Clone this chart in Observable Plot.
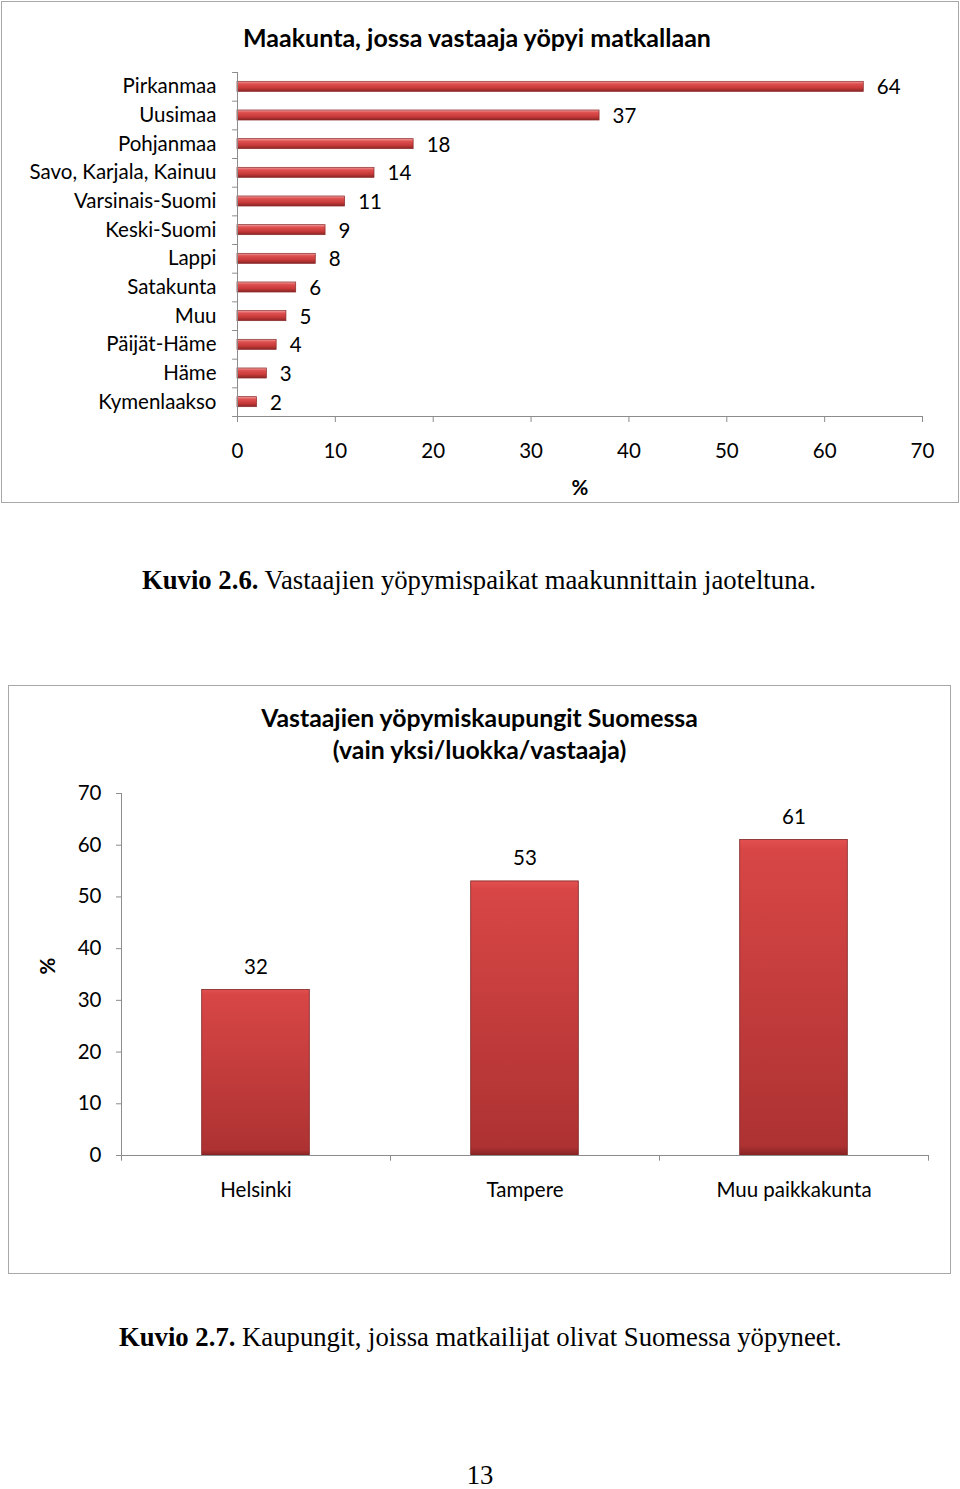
<!DOCTYPE html>
<html>
<head>
<meta charset="utf-8">
<script src="https://cdn.jsdelivr.net/npm/d3@7"></script>
<script src="https://cdn.jsdelivr.net/npm/@observablehq/plot@0.6"></script>
<style>
  html, body { margin: 0; padding: 0; background: #fff; }
  #page { position: relative; width: 960px; height: 1489px; background: #fff; overflow: hidden; }
  .box { position: absolute; border: 1px solid #a8a8a8; background: #fff; }
  .box svg { position: absolute; left: 0; top: 0; }
  .ctitle { position: absolute; left: 0; font-family: Lato, "Open Sans", sans-serif; font-weight: bold; color: #000; text-align: center; z-index: 2; white-space: nowrap; }
  .caption { position: absolute; font-family: "Liberation Serif", "DejaVu Serif", serif; font-size: 26.7px; line-height: 30px; color: #000; white-space: nowrap; }
</style>
</head>
<body>
<div id="page">
  <div id="box1" class="box" style="left:1px;top:1px;width:956px;height:500px;">
    <div class="ctitle" id="title1" style="top:20px;width:950px;font-size:25px;line-height:30px;"></div>
  </div>
  <div class="caption" style="left:142px;top:565px;"><b>Kuvio 2.6.</b> Vastaajien yöpymispaikat maakunnittain jaoteltuna.</div>
  <div id="box2" class="box" style="left:8px;top:685px;width:941px;height:587px;">
    <div class="ctitle" id="title2" style="top:16px;width:941px;font-size:24.8px;line-height:32px;"></div>
  </div>
  <div class="caption" style="left:119px;top:1322px;"><b>Kuvio 2.7.</b> Kaupungit, joissa matkailijat olivat Suomessa yöpyneet.</div>
  <div class="caption" style="left:0;width:960px;text-align:center;top:1462px;line-height:26px;">13</div>
</div>
<script>
// ---------- data ----------
const title1 = "Maakunta, jossa vastaaja yöpyi matkallaan";
const regions = ["Pirkanmaa", "Uusimaa", "Pohjanmaa", "Savo, Karjala, Kainuu", "Varsinais-Suomi", "Keski-Suomi", "Lappi", "Satakunta", "Muu", "Päijät-Häme", "Häme", "Kymenlaakso"];
const regionValues = [64, 37, 18, 14, 11, 9, 8, 6, 5, 4, 3, 2];
const xTicks1 = [0, 10, 20, 30, 40, 50, 60, 70];
const xLabel1 = "%";

const title2Lines = ["Vastaajien yöpymiskaupungit Suomessa", "(vain yksi/luokka/vastaaja)"];
const cities = ["Helsinki", "Tampere", "Muu paikkakunta"];
const cityValues = [32, 53, 61];
const yTicks2 = [0, 10, 20, 30, 40, 50, 60, 70];
const yLabel2 = "%";

const regionData = regions.map((r, i) => ({region: r, value: regionValues[i]}));
const cityData = cities.map((c, i) => ({city: c, value: cityValues[i]}));

document.getElementById("title1").textContent = title1;
document.getElementById("title2").innerHTML = title2Lines.map(s => `<div>${s}</div>`).join("");

const axisGray = "#8c8c8c";
const font = "Lato, 'Open Sans', sans-serif";

function addDefs(svg) {
  d3.select(svg).insert("defs", ":first-child").html(`
    <linearGradient id="hgrad" x1="0" y1="0" x2="0" y2="1">
      <stop offset="0" stop-color="#f0a0a0"/>
      <stop offset="0.25" stop-color="#df5050"/>
      <stop offset="0.65" stop-color="#c83a3a"/>
      <stop offset="1" stop-color="#8a2424"/>
    </linearGradient>
    <linearGradient id="vgrad" x1="0" y1="0" x2="0" y2="1">
      <stop offset="0" stop-color="#e25050"/>
      <stop offset="0.03" stop-color="#d84646"/>
      <stop offset="0.97" stop-color="#ae3232"/>
      <stop offset="1" stop-color="#8a2424"/>
    </linearGradient>`);
}

// ---------- chart 1 ----------
const W1 = 956, H1 = 500, mT1 = 70, mB1 = 86, mL1 = 235, mR1 = 36;
const step1 = (H1 - mT1 - mB1) / regions.length;
const chart1 = Plot.plot({
  width: W1, height: H1,
  marginTop: mT1, marginBottom: mB1, marginLeft: mL1, marginRight: mR1,
  style: {fontFamily: font, fontSize: "20.5px", color: "#000", background: "transparent"},
  x: {domain: [0, 70], ticks: xTicks1},
  y: {domain: regions, paddingInner: 0.65, paddingOuter: 0.325, round: false},
  marks: [
    Plot.barX(regionData, {y: "region", x: "value", fill: "url(#hgrad)", stroke: "#8a2a2a", strokeWidth: 0.7}),
    Plot.text(regionData, {y: "region", x: "value", text: d => String(d.value), dx: 13, dy: 1, textAnchor: "start", fill: "#000"}),
    Plot.ruleX([0], {stroke: axisGray}),
    Plot.ruleY([regions[regions.length - 1]], {x1: 0, x2: 70, dy: step1 / 2, stroke: axisGray}),
    Plot.ruleY(regions, {y: d => d, x1: -0.5, x2: 0, dy: step1 / 2, stroke: axisGray}),
    Plot.ruleY([regions[0]], {x1: -0.5, x2: 0, dy: -step1 / 2, stroke: axisGray}),
    Plot.axisY({tickSize: 0, tickPadding: 21, label: null, fill: "#000"}),
    Plot.axisX({ticks: xTicks1, tickSize: 6, tickPadding: 21, stroke: axisGray, fill: "#000", label: null}),
    Plot.text([xLabel1], {frameAnchor: "bottom", lineAnchor: "middle", dy: 72, fontWeight: "bold", fill: "#000"})
  ]
});
addDefs(chart1);
document.getElementById("box1").appendChild(chart1);

// ---------- chart 2 ----------
const W2 = 941, H2 = 587, mT2 = 107, mB2 = 118, mL2 = 112, mR2 = 22;
const step2 = (W2 - mL2 - mR2) / cities.length;
const chart2 = Plot.plot({
  width: W2, height: H2,
  marginTop: mT2, marginBottom: mB2, marginLeft: mL2, marginRight: mR2,
  style: {fontFamily: font, fontSize: "20.5px", color: "#000", background: "transparent"},
  x: {domain: cities, paddingInner: 0.6, paddingOuter: 0.3, round: false},
  y: {domain: [0, 70], ticks: yTicks2},
  marks: [
    Plot.barY(cityData, {x: "city", y: "value", fill: "url(#vgrad)", stroke: "#7e2222", strokeWidth: 0.8}),
    Plot.text(cityData, {x: "city", y: "value", text: d => String(d.value), dy: -23, fill: "#000"}),
    Plot.ruleY([0], {stroke: axisGray}),
    Plot.ruleX([cities[0]], {dx: -step2 / 2, y1: -1.1, y2: 70, stroke: axisGray}),
    Plot.ruleX(cities, {x: d => d, y1: 0, y2: -1.1, dx: step2 / 2, stroke: axisGray}),
    Plot.axisX({tickSize: 0, tickPadding: 27, label: null, fill: "#000"}),
    Plot.axisY({ticks: yTicks2, tickSize: 5, tickPadding: 15, stroke: axisGray, fill: "#000", label: null}),
    Plot.text([yLabel2], {frameAnchor: "left", lineAnchor: "middle", dx: -73, rotate: -90, fontWeight: "bold", fill: "#000"})
  ]
});
addDefs(chart2);
document.getElementById("box2").appendChild(chart2);
</script>
</body>
</html>
